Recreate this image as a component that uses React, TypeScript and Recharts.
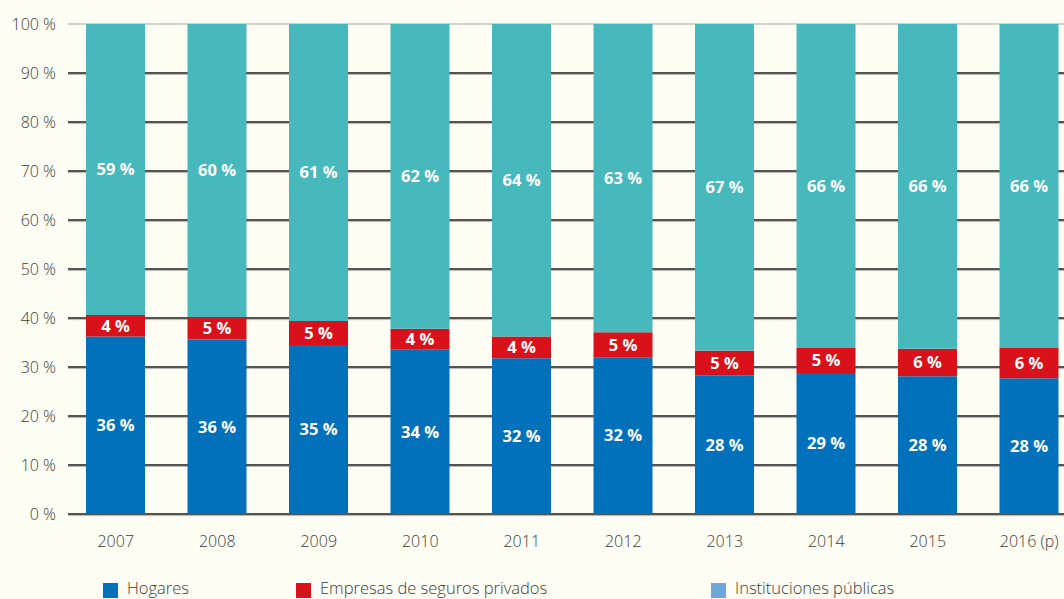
import { BarChart, Bar, XAxis, YAxis, CartesianGrid, LabelList } from "recharts"

// Años y cuotas de financiación (%)
const years = ["2007", "2008", "2009", "2010", "2011", "2012", "2013", "2014", "2015", "2016 (p)"]
const hogares = [36.2, 35.6, 34.5, 33.6, 31.8, 32.0, 28.3, 28.8, 28.1, 27.7]
const seguros = [4.4, 4.6, 4.9, 4.2, 4.4, 5.1, 5.0, 5.1, 5.6, 6.2]
const publicas = [59.4, 59.8, 60.6, 62.2, 63.8, 62.9, 66.7, 66.1, 66.3, 66.1]
const yTicks = [0, 10, 20, 30, 40, 50, 60, 70, 80, 90, 100]

const legendItems = [
  { name: "Hogares", color: "#0071BA", left: 103, textLeft: 127 },
  { name: "Empresas de seguros privados", color: "#D9111A", left: 296, textLeft: 320 },
  { name: "Instituciones públicas", color: "#6FA6DC", left: 711, textLeft: 735 },
]

const data = years.map((year, i) => ({
  year,
  hogares: hogares[i],
  seguros: seguros[i],
  publicas: publicas[i],
}))

const FONT = "'Open Sans', sans-serif"
const TOP = 24

// linea de rejilla: negra con sombra gris, la de 100 % solo gris
const GridLine = (p: any) => {
  const x1 = p.x1 + 3
  if (Math.abs(p.y1 - TOP) < 1) {
    return <line key={`g-${p.index}`} x1={x1} x2={p.x2} y1={p.y1} y2={p.y2} stroke="#a8a8a8" strokeWidth={1.2} />
  }
  return (
    <g key={`g-${p.index}`}>
      <line x1={x1} x2={p.x2} y1={p.y1} y2={p.y2} stroke="#1a1a1a" strokeWidth={1.3} />
      <line x1={x1} x2={p.x2} y1={p.y1 + 1.6} y2={p.y2 + 1.6} stroke="#b5b5b5" strokeWidth={1} />
    </g>
  )
}

const pct = (v: any) => `${Math.round(Number(v))} %`

const labelStyle = { fill: "#ffffff", fontSize: 16.5, fontWeight: 700, fontFamily: FONT }
const tickStyle = { fontSize: 16, fill: "#3c3c3c", fontFamily: FONT, fontWeight: 300 }

export default function App() {
  return (
    <div
      style={{
        position: "absolute",
        left: 0,
        top: 0,
        width: 1064,
        height: 599,
        overflow: "hidden",
        background: "#FDFDF4",
        fontFamily: FONT,
      }}
    >
      <BarChart
        width={1080}
        height={599}
        data={data}
        margin={{ top: TOP, right: 0, bottom: 0, left: 0 }}
        barCategoryGap={0}
      >
        <CartesianGrid vertical={false} horizontal={GridLine} />
        <XAxis
          dataKey="year"
          height={85}
          axisLine={false}
          tickLine={false}
          tickMargin={16}
          tick={tickStyle}
        />
        <YAxis
          width={65}
          domain={[0, 100]}
          ticks={yTicks}
          axisLine={false}
          tickLine={false}
          tickMargin={3}
          tickFormatter={(v) => `${v} %`}
          tick={tickStyle}
        />
        <Bar dataKey="hogares" stackId="a" fill="#0071BA" barSize={59} isAnimationActive={false}>
          <LabelList dataKey="hogares" position="center" formatter={pct} style={labelStyle} />
        </Bar>
        <Bar dataKey="seguros" stackId="a" fill="#D9111A" barSize={59} isAnimationActive={false}>
          <LabelList dataKey="seguros" position="center" formatter={pct} style={labelStyle} />
        </Bar>
        <Bar dataKey="publicas" stackId="a" fill="#47B8BC" barSize={59} isAnimationActive={false}>
          <LabelList dataKey="publicas" position="center" formatter={pct} style={labelStyle} />
        </Bar>
      </BarChart>

      {legendItems.map((item) => (
        <div key={item.name}>
          <div
            style={{
              position: "absolute",
              left: item.left,
              top: 583,
              width: 15,
              height: 15,
              background: item.color,
            }}
          />
          <div
            style={{
              position: "absolute",
              left: item.textLeft,
              top: 577,
              fontSize: 16.5,
              fontWeight: 300,
              color: "#3c3c3c",
              lineHeight: "22px",
              whiteSpace: "nowrap",
            }}
          >
            {item.name}
          </div>
        </div>
      ))}
    </div>
  )
}
